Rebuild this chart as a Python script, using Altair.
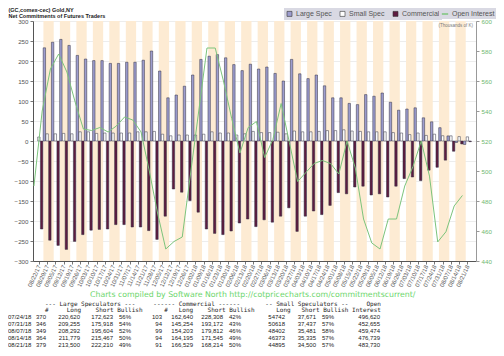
import altair as alt
import pandas as pd

# ---------------- data ----------------
dates = ["08/22/17", "08/29/17", "09/05/17", "09/12/17", "09/19/17", "09/26/17",
         "10/03/17", "10/10/17", "10/17/17", "10/24/17", "10/31/17",
         "11/07/17", "11/14/17", "11/21/17", "11/28/17",
         "12/05/17", "12/12/17", "12/19/17", "12/26/17",
         "01/02/18", "01/09/18", "01/16/18", "01/23/18", "01/30/18",
         "02/06/18", "02/13/18", "02/20/18", "02/27/18",
         "03/06/18", "03/13/18", "03/20/18", "03/27/18",
         "04/03/18", "04/10/18", "04/17/18", "04/24/18",
         "05/01/18", "05/08/18", "05/15/18", "05/22/18", "05/29/18",
         "06/05/18", "06/12/18", "06/19/18", "06/26/18",
         "07/03/18", "07/10/18", "07/17/18", "07/24/18", "07/31/18",
         "08/07/18", "08/14/18", "08/21/18"]

large_spec = [None, 233, 247, 254, 239, 214, 205, 201, 201, 194, 194, 197, 197, 202, 225,
              175, 108, 115, 137, 165, 204, 212, 216, 208, 191, 176, 192, 180, 185, 169,
              150, 204, 168, 156, 165, 138, 108, 108, 94, 91, 116, 112, 120, 97, 77, 80,
              83, 58, 48.0, 33.3, 12.7, -3.7, -8.7]

small_spec = [10, 18, 18, 19, 18, 23, 23, 19, 20, 20, 20, 20, 23, 23, 24, 17, 13, 15, 15,
              15, 17, 23, 20, 20, 15, 18, 24, 21, 21, 22, 18, 25, 23, 23, 24, 26, 26, 28,
              25, 24, 23, 23, 23, 21, 20, 16, 20, 14, 17.1, 13.2, 12.9, 11.0, 10.4]

commercial = [-220, -248, -261, -271, -251, -234, -223, -221, -220, -209, -209, -215, -215,
              -224, -246, -188, -120, -128, -149, -178, -220, -231, -234, -225, -205, -195,
              -214, -197, -203, -188, -167, -226, -188, -175, -184, -161, -129, -132, -115,
              -113, -135, -132, -140, -113, -94, -90, -99, -73, -65.7, -47.9, -25.6, -7.4,
              -1.7]

open_interest = [490, 540, 568, 578, 566, 546, 528, 527, 529, 526, 530, 536, 534, 526, 500,
                 472, 448, 453, 456, 498, 540, 582, 582, 560, 535, 512, 529, 533, 509, 521,
                 545, 519, 493, 499, 505, 507, 505, 498, 520, 502, 468, 452, 448, 468, 468,
                 490, 503, 520, 496.6, 452.7, 459.5, 476.7, 483.7]

net_ticks = [-300, -250, -200, -150, -100, -50, 0, 50, 100, 150, 200, 250, 300]
oi_ticks = [440, 460, 480, 500, 520, 540, 560, 580, 600]

series_names = ["Large Spec", "Small Spec", "Commercial"]
series_colors = ["#9d9dcf", "#ffffff", "#5e1c40"]
oi_name = "Open Interest"
oi_color = "#7cc47c"

title_lines = ["(GC,comex-cec) Gold,NY", "Net Commitments of Futures Traders"]
units_text = "(Thousands of K)"
credit_text = "Charts compiled by Software North  http://cotpricecharts.com/commitmentscurrent/"

table_head1 = ["--- Large Speculators ---", "------ Commercial ------",
               "-- Small Speculators --", "Open"]
table_head2 = ["#", "Long", "Short", "Bullish", "#", "Long", "Short", "Bullish",
               "Long", "Short", "Bullish", "Interest"]
tbl_dates = ["07/24/18", "07/31/18", "08/07/18", "08/14/18", "08/21/18"]
tbl_ls_n = [370, 346, 349, 364, 379]
tbl_ls_long = [220620, 209255, 208292, 211779, 213500]
tbl_ls_short = [172623, 175918, 195604, 215467, 222210]
tbl_ls_bull = [56, 54, 52, 50, 49]
tbl_cm_n = [103, 94, 99, 94, 91]
tbl_cm_long = [162640, 145254, 154203, 164195, 166529]
tbl_cm_short = [228308, 193172, 179812, 171545, 168214]
tbl_cm_bull = [42, 43, 46, 49, 50]
tbl_ss_long = [54742, 50618, 48402, 46373, 44895]
tbl_ss_short = [37671, 37437, 35481, 35335, 34500]
tbl_ss_bull = [59, 57, 58, 57, 57]
tbl_oi = [496620, 452655, 459474, 476739, 483730]

# ---------------- tables for the library ----------------
N = len(dates)
bar_rows = []
for i in range(N):
    for name, vals, off in ((series_names[0], large_spec, -1 / 3),
                            (series_names[1], small_spec, 0.0),
                            (series_names[2], commercial, 1 / 3)):
        if vals[i] is not None:
            bar_rows.append({"u": i + off, "net": vals[i], "series": name})
bars_df = pd.DataFrame(bar_rows)

oi_df = pd.DataFrame({"u": [i - 0.6 for i in range(N)], "oi": open_interest, "name": oi_name})

odd = list(range(1, N, 2))
stripe_df = pd.DataFrame({"a": [i - 0.45 for i in odd], "b": [i + 0.8 for i in odd]})


def put(buf, start, s):
    if len(buf) < start:
        buf += " " * (start - len(buf))
    return buf[:start] + s + buf[start + len(s):]


def fmt(n):
    return f"{n:,}"


NB = "\u00a0"
h1 = ""
for col, s in zip((0, 30, 61, 89), table_head1):
    h1 = put(h1, col, s)
h2 = ""
for col, s in zip((0, 6, 14, 20, 33, 37, 45, 51, 64, 71, 77, 85), table_head2):
    h2 = put(h2, col, s)
h1 = h1.replace(" ", NB)
h2 = h2.replace(" ", NB)

# table columns: (right edge in page pixels, cell texts)
row_columns = [
    (46, [str(v) for v in tbl_ls_n]),
    (80, [fmt(v) for v in tbl_ls_long]),
    (113, [fmt(v) for v in tbl_ls_short]),
    (131, [f"{v}%" for v in tbl_ls_bull]),
    (162, [str(v) for v in tbl_cm_n]),
    (193, [fmt(v) for v in tbl_cm_long]),
    (223, [fmt(v) for v in tbl_cm_short]),
    (241, [f"{v}%" for v in tbl_cm_bull]),
    (285, [str(v) for v in tbl_ss_long]),
    (316, [fmt(v) for v in tbl_ss_short]),
    (334, [f"{v}%" for v in tbl_ss_bull]),
    (380, [fmt(v) for v in tbl_oi]),
]

# ---------------- chart ----------------
W, H = 443, 240
OX, OY = 33, 21  # plot origin in page pixels
xscale = alt.Scale(domain=[-0.107, 52.44], nice=False, zero=False)
label_expr = "[" + ",".join(f"'{d}'" for d in dates) + "][datum.value]"
xaxis = alt.Axis(values=list(range(N)), labelExpr=label_expr, labelAngle=-65,
                 labelFontSize=6, labelFont="Liberation Sans", labelColor="#555",
                 tickSize=3, tickColor="#777", domainColor="#555", labelPadding=1,
                 grid=False, title=None, labelOverlap=False, labelFlush=False)
left_axis = alt.Axis(values=net_ticks, labelFontSize=6.2, labelFont="Liberation Sans",
                     labelColor="#555", tickSize=3, tickColor="#777", domainColor="#555",
                     grid=True, gridColor="#e0e0e0", gridWidth=0.6, title=None,
                     labelPadding=2, labelFlush=False, labelOverlap=False)
right_axis = alt.Axis(orient="right", values=oi_ticks, labelFontSize=6.2,
                      labelFont="Liberation Sans", labelColor="#6fb86f", tickSize=3,
                      tickColor="#999", domainColor="#999", grid=False, title=None,
                      labelPadding=2, labelFlush=False, labelOverlap=False)

legend1 = alt.Legend(title=None, orient="none", legendX=251, legendY=-13,
                     direction="horizontal", columns=3, symbolType="square", symbolSize=25,
                     symbolStrokeColor="#333", symbolStrokeWidth=0.6, labelFontSize=7,
                     labelFont="Liberation Sans", labelColor="#555", fillColor="#d9d9e3",
                     padding=2, columnPadding=6, labelOffset=3)
legend2 = alt.Legend(title=None, orient="none", legendX=406, legendY=-13,
                     symbolType="stroke", symbolSize=40, symbolStrokeWidth=1.5,
                     labelFontSize=7, labelFont="Liberation Sans", labelColor="#555",
                     fillColor="#d9d9e3", padding=2, labelOffset=3)

stripes = alt.Chart(stripe_df).mark_rect(color="#fdebd3").encode(
    x=alt.X("a:Q", scale=xscale, axis=xaxis), x2="b:Q",
    y=alt.value(0), y2=alt.value(H))

bars = alt.Chart(bars_df).mark_bar(size=2.4, stroke="#2e2e40", strokeWidth=0.5, clip=True).encode(
    x=alt.X("u:Q", scale=xscale, axis=xaxis),
    y=alt.Y("net:Q", scale=alt.Scale(domain=[-300, 300], nice=False), axis=left_axis),
    color=alt.Color("series:N", scale=alt.Scale(domain=series_names, range=series_colors),
                    legend=legend1))

line = alt.Chart(oi_df).mark_line(strokeWidth=1, clip=True).encode(
    x=alt.X("u:Q", scale=xscale, axis=xaxis),
    y=alt.Y("oi:Q", scale=alt.Scale(domain=[440, 600], nice=False, zero=False), axis=right_axis),
    stroke=alt.Stroke("name:N", scale=alt.Scale(domain=[oi_name], range=[oi_color]),
                      legend=legend2))

one = pd.DataFrame({"k": [0]})


def text_layer(text, x_page, y_page, **kw):
    return alt.Chart(one).mark_text(**kw).encode(
        x=alt.value(x_page - OX), y=alt.value(y_page - OY), text=alt.value(text))


texts = [
    text_layer(title_lines, 8.5, 8, align="left", baseline="top", font="Liberation Sans",
               fontWeight="bold", fontSize=5.5, lineHeight=5.6, color="#222"),
    text_layer(units_text, 473, 22.5, align="right", baseline="top",
               font="Liberation Sans", fontSize=4.5, color="#777"),
    text_layer(credit_text, 90, 295, align="left", baseline="middle",
               font="DejaVu Sans", fontSize=7.8, color="#6cd66c"),
]

LH = 6.9
y_h1 = 300.5
mono = dict(align="left", baseline="top", font="DejaVu Sans Mono", fontSize=6, color="#222")
texts.append(text_layer(h1, 45, y_h1, **mono))
texts.append(text_layer(h2, 45, y_h1 + LH, **mono))
y_rows = y_h1 + 2 * LH
cell = dict(baseline="top", font="Liberation Sans", fontSize=6, lineHeight=LH, color="#222")
texts.append(text_layer(tbl_dates, 8, y_rows, align="left", **cell))
for x_end, cells in row_columns:
    texts.append(text_layer(cells, x_end, y_rows, align="right", **cell))

chart = alt.layer(stripes, bars, line, *texts).resolve_scale(
    y="independent"
).properties(
    width=W, height=H,
    autosize=alt.AutoSizeParams(type="none"),
    padding={"left": OX - 8, "top": OY - 8, "right": 20, "bottom": 87},
).configure_view(strokeWidth=0)

chart.save("out.html", embed_options={"renderer": "svg", "actions": False})
